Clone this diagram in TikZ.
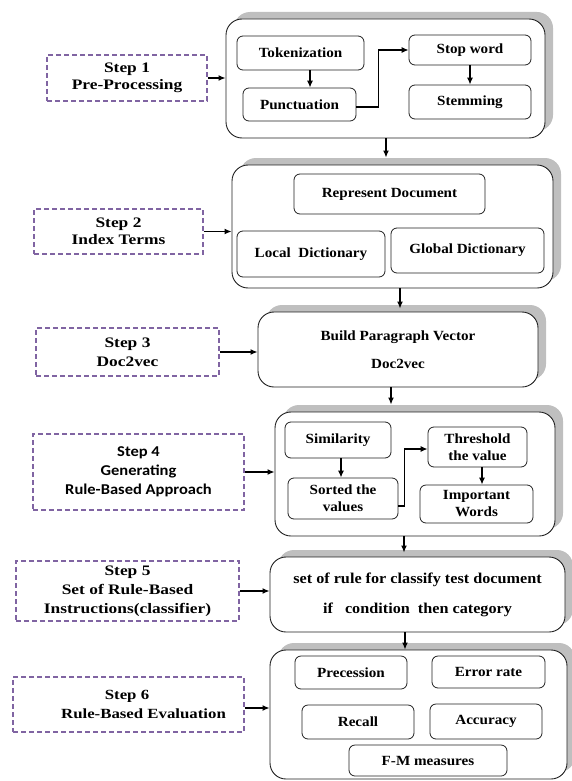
\documentclass[tikz,border=0pt]{standalone}
\usepackage{fontspec}
\setmainfont{Liberation Serif}[FakeStretch=1.08]
\newfontfamily\stepfont{Liberation Serif}[FakeStretch=1.2]
\newfontfamily\calib{Carlito}[FakeStretch=1.1]
\usetikzlibrary{arrows.meta,shadows}
\definecolor{stepviolet}{HTML}{8064A2}
\definecolor{frame}{HTML}{202020}
\tikzset{
  outerbox/.style={draw=frame, line width=0.9pt, rounded corners=16pt, fill=white,
    general shadow={fill=gray!50, shadow xshift=8pt, shadow yshift=7pt}},
  inbox/.style={draw=frame, line width=0.8pt, rounded corners=6pt, fill=white, align=center, inner sep=1pt},
  stepbox/.style={draw=stepviolet, line width=1.4pt, dash pattern=on 5pt off 3pt, align=center, inner sep=1pt,
    font=\stepfont\bfseries\fontsize{14.5}{19}\selectfont},
  arr/.style={-{Latex[length=7pt,width=6pt]}, line width=1.3pt},
}
\begin{document}
\begin{tikzpicture}[x=1pt,y=-1pt,font=\bfseries\fontsize{14}{17}\selectfont]
\useasboundingbox (0,0) rectangle (571,781);

% ---------- Step 1 : pre-processing ----------
\node[outerbox, minimum width=319pt, minimum height=119pt] (b1) at (385.5,78.5) {};
\node[inbox, minimum width=127pt, minimum height=34pt] (tok) at (300.5,53) {Tokenization};
\node[inbox, minimum width=113pt, minimum height=33pt] (pun) at (299.5,104.5) {Punctuation};
\node[inbox, minimum width=122pt, minimum height=30pt] (stop) at (470,50) {Stop word};
\node[inbox, minimum width=122pt, minimum height=34pt] (stem) at (470,102) {Stemming};
\node[stepbox, minimum width=160pt, minimum height=46pt, font=\stepfont\bfseries\fontsize{14.5}{17}\selectfont]
      (s1) at (127,78) {Step 1\\Pre-Processing};

\draw[arr] ([xshift=9.5pt]tok.south) -- ([xshift=9.5pt]tok.south |- pun.north);
\draw[arr] (stop.south) -- (stem.north);
\draw[arr] ([yshift=-2.5pt]pun.east) -- ++(22,0) |- (stop.west);
\draw[arr] (s1.east) -- (s1.east -| b1.west);

% ---------- Step 2 : index terms ----------
\node[outerbox, minimum width=321pt, minimum height=123pt] (b2) at (392.5,226.5) {};
\node[inbox, minimum width=191pt, minimum height=40pt] (rep) at (389.5,194) {Represent Document};
\node[inbox, minimum width=148pt, minimum height=46pt] (loc) at (311,254) {Local\ \ Dictionary};
\node[inbox, minimum width=153pt, minimum height=45pt] (glo) at (467.5,250.5) {Global Dictionary};
\node[stepbox, minimum width=169pt, minimum height=45pt, font=\stepfont\bfseries\fontsize{14.5}{16.5}\selectfont]
      (s2) at (118.5,231.5) {Step 2\\Index Terms};

\draw[arr] (s2.east) -- (s2.east -| b2.west);
\draw[arr] ([xshift=0.5pt]b1.south) -- ([xshift=0.5pt,yshift=7pt]b1.south |- b2.north);

% ---------- Step 3 : doc2vec ----------
\node[outerbox, minimum width=280pt, minimum height=75pt, align=center] (b3) at (398,349.5)
      {Build Paragraph Vector\\[11pt]Doc2vec};
\node[stepbox, minimum width=183pt, minimum height=48pt] (s3) at (127.5,352) {Step 3\\Doc2vec};

\draw[arr] (s3.east) -- (s3.east -| b3.west);
\draw[arr] ([xshift=7.5pt]b2.south) -- ([xshift=7.5pt,yshift=3pt]b2.south |- b3.north);

% ---------- Step 4 : rule-based approach ----------
\node[outerbox, minimum width=280pt, minimum height=124pt] (b4) at (415,474) {};
\node[inbox, minimum width=106pt, minimum height=36pt] (sim) at (338,440) {Similarity};
\node[inbox, minimum width=110pt, minimum height=41pt] (sor) at (343,498.5) {Sorted the\\values};
\node[inbox, minimum width=99pt, minimum height=40pt] (thr) at (477.5,447) {Threshold\\the value};
\node[inbox, minimum width=113pt, minimum height=38pt] (imp) at (476.5,504) {Important\\Words};
\node[stepbox, minimum width=211pt, minimum height=76pt,
      font=\calib\bfseries\fontsize{15}{19}\selectfont] (s4) at (138.5,472)
      {Step 4\\Generating\\Rule-Based Approach};

\draw[arr] ([xshift=3pt]sim.south) -- ([xshift=3pt]sim.south |- sor.north);
\draw[arr] ([xshift=4.5pt]thr.south) -- ([xshift=4.5pt]thr.south |- imp.north);
\draw[arr] ([yshift=-7.5pt]sor.east) -- ++(6,0) |- ([yshift=-2pt]thr.west);
\draw[arr] (s4.east) -- (s4.east -| b4.west);
\draw[arr] ([xshift=-7pt]b3.south) -- ([xshift=-7pt,yshift=7pt]b3.south |- b4.north);

% ---------- Step 5 : classifier ----------
\node[outerbox, minimum width=295pt, minimum height=75pt, align=center,
      font=\bfseries\fontsize{15}{17}\selectfont] (b5) at (417.5,594.5)
      {set of rule for classify test document\\[13pt]if\ \ \ condition\ \ then category};
\node[stepbox, minimum width=223pt, minimum height=60pt] (s5) at (127.5,591)
      {Step 5\\Set of Rule-Based\\Instructions(classifier)};

\draw[arr] (s5.east) -- (s5.east -| b5.west);
\draw[arr] ([xshift=-11pt]b4.south) -- ([xshift=-11pt,yshift=4pt]b4.south |- b5.north);

% ---------- Step 6 : evaluation ----------
\node[outerbox, minimum width=297pt, minimum height=129pt] (b6) at (418.5,714.5) {};
\node[inbox, minimum width=112pt, minimum height=33pt] (pre) at (351,672.5) {Precession};
\node[inbox, minimum width=113pt, minimum height=32pt] (err) at (488.5,672) {Error rate};
\node[inbox, minimum width=112pt, minimum height=34pt] (rec) at (358,722) {Recall};
\node[inbox, minimum width=112pt, minimum height=35pt] (acc) at (486,721.5) {Accuracy};
\node[inbox, minimum width=158pt, minimum height=31pt] (fm) at (428,760.5) {F-M measures};
\node[stepbox, minimum width=231pt, minimum height=55pt, font=\stepfont\bfseries\fontsize{14}{19}\selectfont]
      (s6) at (128.5,704.5) {\hspace*{-3pt}Step 6\\\hspace*{30pt}Rule-Based Evaluation};

\draw[arr] ([yshift=-3.5pt]s6.east) -- ([yshift=-3.5pt]s6.east -| b6.west);
\draw[arr] ([xshift=-12.5pt]b5.south) -- ([xshift=-12.5pt]b5.south |- b6.north);
\end{tikzpicture}
\end{document}
